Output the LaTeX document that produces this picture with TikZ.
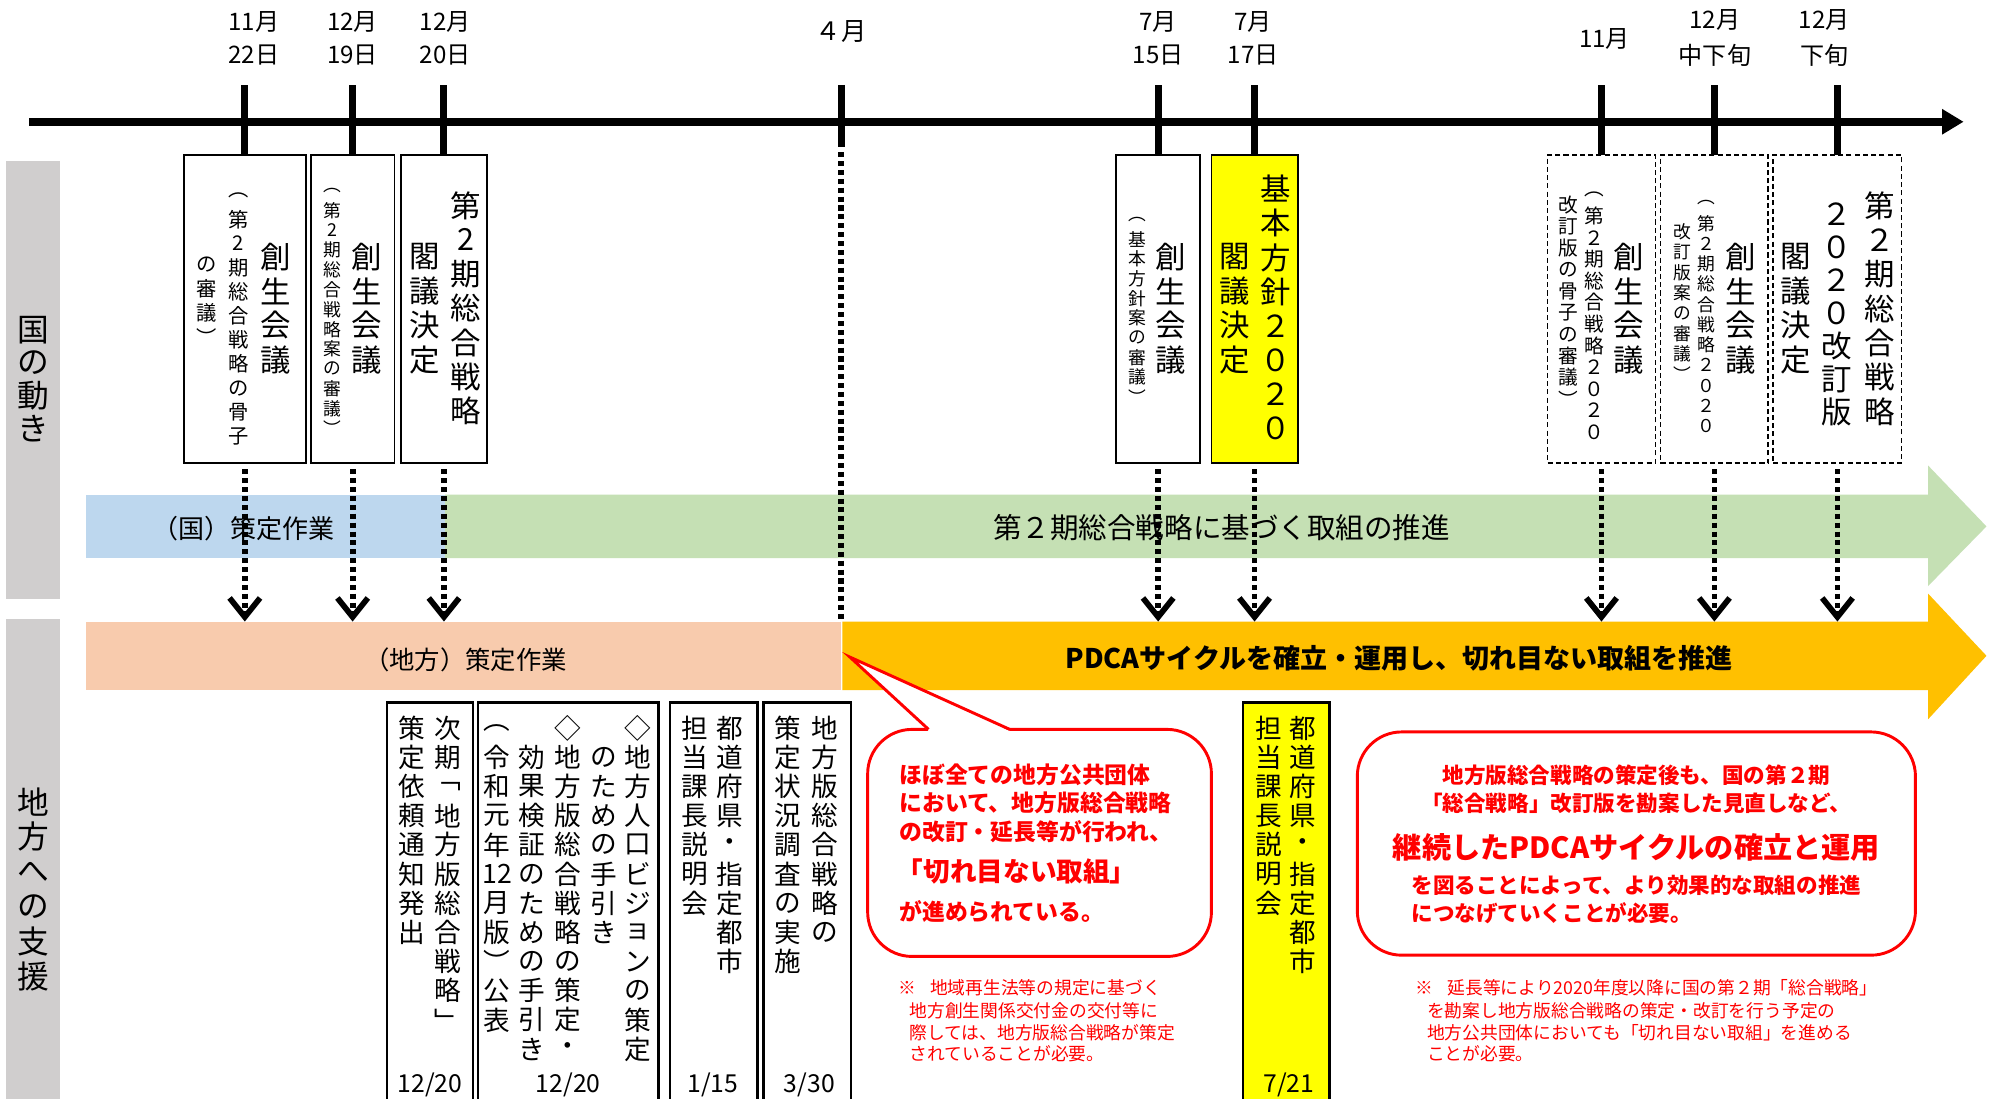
\documentclass[tikz,border=0pt]{standalone}
\usepackage{fontspec}
\setmainfont{Noto Sans CJK JP}
\usetikzlibrary{arrows.meta}
\definecolor{sidegray}{HTML}{D0CECE}
\definecolor{bandblue}{HTML}{BDD7EE}
\definecolor{bandgreen}{HTML}{C5E0B4}
\definecolor{bandsalmon}{HTML}{F8CBAD}
\definecolor{bandgold}{HTML}{FFC000}
\definecolor{hiyellow}{HTML}{FFFF00}
\definecolor{callred}{HTML}{FF0000}
\newlength\vtp
\let\vtend\relax
\def\vtc#1{\hbox to 1.1em{\hss\vbox to\vtp{\vss\hbox{#1}\vss}\hss}}
\def\vtloop#1{\ifx\vtend#1\else\vtc{#1}\expandafter\vtloop\fi}
\newcommand\vcol[2]{\setlength\vtp{#1}\vbox{\offinterlineskip\vtloop#2\vtend}}
\newcommand\fsz[2]{\fontsize{#1}{#2}\selectfont}
\begin{document}
\begin{tikzpicture}[x=1pt,y=-1pt,
  every node/.style={inner sep=0pt, outer sep=0pt},
  sidebar/.style={fill=sidegray, minimum width=42},
  sidelabel/.style={font=\fsz{25pt}{26pt}},
  bandtext/.style={font=\fsz{20pt}{22pt}},
  timeline/.style={line width=6pt, -{Triangle[length=17pt,width=19pt]}},
  tickline/.style={line width=5.5pt},
  topbox/.style={draw, line width=1.4pt, fill=white, minimum height=243},
  topdash/.style={topbox, dash pattern=on 4pt off 2.5pt},
  yel/.style={fill=hiyellow},
  cbig/.style={font=\fsz{24pt}{27pt}},
  csmall/.style={font=\fsz{16pt}{18pt}},
  ctiny/.style={font=\fsz{14pt}{16pt}},
  datelabel/.style={font=\fsz{19pt}{26pt}, align=center},
  dotarrow/.style={line width=4.5pt, dash pattern=on 4pt off 3pt, -{Straight Barb[length=15pt,width=24pt,line join=miter]}},
  dotline/.style={line width=4.5pt, dash pattern=on 4pt off 3pt},
  botbox/.style={draw, line width=2pt, fill=white, minimum height=346},
  cmid/.style={font=\fsz{21pt}{23pt}, anchor=north},
  datef/.style={font=\fsz{19.5pt}{21pt}},
  callbox/.style={draw=callred, line width=2.3pt, fill=white, rounded corners=35pt},
  calltext/.style={text=callred, font=\bfseries\fsz{18pt}{20pt}, anchor=west},
  callbig/.style={text=callred, font=\bfseries\fsz{21pt}{24pt}, anchor=west},
  calltextb/.style={text=callred, font=\bfseries\fsz{17pt}{20pt}},
  notetext/.style={text=callred, font=\fsz{14pt}{16pt}, anchor=west}
]
\useasboundingbox (0,0) rectangle (1568,866);
\clip (0,0) rectangle (1568,866);
\fill[white] (0,0) rectangle (1568,866);

% side bars
\node[sidebar, minimum height=345] (side1) at (26,299.5) {};
\node[sidebar, minimum height=392] (side2) at (26,684) {};
\node[sidelabel] (side1t) at (26,299) {\vcol{26pt}{国の動き}};
\node[sidelabel] (side2t) at (26,701) {\vcol{27.5pt}{地方への支援}};

% bands
\node[fill=bandblue, minimum width=283, minimum height=50] (kband) at (209.5,415) {};
\fill[bandgreen] (351,390) -- (1520,390) -- (1520,367) -- (1566,415) -- (1520,462) -- (1520,440) -- (351,440) -- cycle;
\node[fill=bandsalmon, minimum width=595, minimum height=54] (cband) at (365.5,517) {};
\fill[bandgold] (664,490) -- (1520,490) -- (1520,468) -- (1566,517) -- (1520,567) -- (1520,544) -- (664,544) -- cycle;
\node[bandtext, font=\fsz{20.5pt}{22pt}] (kbandt) at (192,417) {（国）策定作業};
\node[bandtext, font=\fsz{22.5pt}{24pt}] (gbandt) at (963,416) {第２期総合戦略に基づく取組の推進};
\node[bandtext] (cbandt) at (367,520) {（地方）策定作業};
\node[bandtext, font=\bfseries\fsz{21.3pt}{22pt}] (obandt) at (1103,519) {PDCAサイクルを確立・運用し、切れ目ない取組を推進};

% timeline
\coordinate (tlstart) at (23,96);
\coordinate (tlend) at (1548,96);
\coordinate (tltop) at (0,67);
\draw[timeline] (tlstart) -- (tlend);

% top labels
\node[datelabel] (d1) at (200,30) {11月\\22日};
\node[datelabel] (d2) at (278,30) {12月\\19日};
\node[datelabel] (d3) at (351,30) {12月\\20日};
\node[datelabel, font=\fsz{20pt}{26pt}] (d4) at (663,25) {４月};
\node[datelabel] (d5) at (913,30) {7月\\15日};
\node[datelabel] (d6) at (988,30) {7月\\17日};
\node[datelabel] (d7) at (1265,31) {11月};
\node[datelabel, font=\fsz{19pt}{28pt}] (d8) at (1352,30) {12月\\中下旬};
\node[datelabel, font=\fsz{19pt}{28pt}] (d9) at (1438,30) {12月\\下旬};

% top boxes
\node[topbox, minimum width=96] (b1) at (193,243.5) {};
\node[cbig] (b1a) at (217,243) {\vcol{27pt}{創生会議}};
\node[csmall] (b1b) at (188,249) {\vcol{19pt}{︵第2期総合戦略の骨子}};
\node[csmall] (b1c) at (163,237) {\vcol{19pt}{の審議︶}};

\node[topbox, minimum width=66] (b2) at (278,243.5) {};
\node[cbig] (b2a) at (289,243) {\vcol{27pt}{創生会議}};
\node[ctiny] (b2b) at (262,244) {\vcol{15.6pt}{︵第2期総合戦略案の審議︶}};

\node[topbox, minimum width=68] (b3) at (350,243.5) {};
\node[cbig] (b3a) at (367,243) {\vcol{27pt}{第2期総合戦略}};
\node[cbig] (b3b) at (335,243) {\vcol{27pt}{閣議決定}};

\node[topbox, minimum width=66] (b4) at (913,243.5) {};
\node[cbig] (b4a) at (923,243) {\vcol{27pt}{創生会議}};
\node[ctiny] (b4b) at (897,243) {\vcol{15.5pt}{︵基本方針案の審議︶}};

\node[topbox, yel, minimum width=68] (b5) at (989,243.5) {};
\node[cbig] (b5a) at (1006,243.5) {\vcol{27pt}{基本方針２０２０}};
\node[cbig] (b5b) at (973,243) {\vcol{27pt}{閣議決定}};

\node[topdash, minimum width=85] (b6) at (1262.5,243.5) {};
\node[cbig] (b6a) at (1284,243) {\vcol{27pt}{創生会議}};
\node[csmall, font=\fsz{15.5pt}{17pt}] (b6b) at (1257,247) {\vcol{17pt}{︵第２期総合戦略２０２０}};
\node[csmall, font=\fsz{15.5pt}{17pt}] (b6c) at (1236,238) {\vcol{17pt}{改訂版の骨子の審議︶}};

\node[topdash, minimum width=85] (b7) at (1351.5,243.5) {};
\node[cbig] (b7a) at (1372,243) {\vcol{27pt}{創生会議}};
\node[ctiny] (b7b) at (1345,248) {\vcol{16pt}{︵第２期総合戦略２０２０}};
\node[ctiny] (b7c) at (1326,239) {\vcol{16pt}{改訂版案の審議︶}};

\node[topdash, minimum width=101] (b8) at (1448.5,243.5) {};
\node[cbig] (b8a) at (1482,243.5) {\vcol{27pt}{第２期総合戦略}};
\node[cbig] (b8b) at (1448,247) {\vcol{26pt}{２０２０改訂版}};
\node[cbig] (b8c) at (1416,243) {\vcol{27pt}{閣議決定}};

% ticks
\foreach \b in {b1,b2,b3,b4,b5,b6,b7,b8}
  \draw[tickline] (\b.north) -- (\b.north |- tltop);
\coordinate (apr) at (663,67);
\coordinate (aprb) at (663,116);
\draw[tickline] (apr) -- (aprb);
\draw[dotline] ([yshift=-4pt]aprb) -- (aprb |- cband.north);

% dotted arrows
\foreach \b in {b1,b2,b3,b4,b5,b6,b7,b8}
  \draw[dotarrow] ([yshift=-5pt]\b.south) -- (\b.south |- cband.north);

% bottom boxes
\node[botbox, minimum width=68] (c1) at (339,727) {};
\node[cmid] (c1a) at (353,562.5) {\vcol{23pt}{次期﹁地方版総合戦略﹂}};
\node[cmid] (c1b) at (325,562.5) {\vcol{23pt}{策定依頼通知発出}};
\node[datef] (c1d) at (339,855) {12/20};

\node[botbox, minimum width=142] (c2) at (448,727) {};
\node[cmid] (c2a) at (503,562.5) {\vcol{23pt}{◇地方人口ビジョンの策定}};
\node[cmid] (c2b) at (476,585.5) {\vcol{23pt}{のための手引き}};
\node[cmid] (c2c) at (448,562.5) {\vcol{23pt}{◇地方版総合戦略の策定・}};
\node[cmid] (c2d) at (419,585.5) {\vcol{23pt}{効果検証のための手引き}};
\node[cmid] (c2e) at (392,562.5) {\vcol{23pt}{︵令和元年{12}月版︶公表}};
\node[datef] (c2f) at (448,855) {12/20};

\node[botbox, minimum width=69] (c3) at (562.5,727) {};
\node[cmid] (c3a) at (575,562.5) {\vcol{23pt}{都道府県・指定都市}};
\node[cmid] (c3b) at (548,562.5) {\vcol{23pt}{担当課長説明会}};
\node[datef] (c3d) at (562,855) {1/15};

\node[botbox, minimum width=69] (c4) at (636.5,727) {};
\node[cmid] (c4a) at (650,562.5) {\vcol{23pt}{地方版総合戦略の}};
\node[cmid] (c4b) at (621,562.5) {\vcol{23pt}{策定状況調査の実施}};
\node[datef] (c4d) at (638,855) {3/30};

\node[botbox, yel, minimum width=68] (c5) at (1014,727) {};
\node[cmid] (c5a) at (1027,562.5) {\vcol{23pt}{都道府県・指定都市}};
\node[cmid] (c5b) at (1000,562.5) {\vcol{23pt}{担当課長説明会}};
\node[datef] (c5d) at (1016,855) {7/21};

% callout 1
\node[callbox, minimum width=271, minimum height=179] (call1) at (819.5,664.5) {};
\coordinate (tip1) at (670,518);
\coordinate (p1a) at (732,575);
\coordinate (p1b) at (796,575);
\fill[white] ([yshift=-1.2pt]p1a) -- (tip1) -- ([yshift=-1.2pt]p1b) -- cycle;
\draw[callred, line width=2.3pt, line join=miter] (p1a) -- (tip1) -- (p1b);
\node[calltext] (t11) at (709,611) {ほぼ全ての地方公共団体};
\node[calltext] (t12) at (709,633) {において、地方版総合戦略};
\node[calltext] (t13) at (709,656) {の改訂・延長等が行われ、};
\node[callbig] (t14) at (707,687) {「切れ目ない取組」};
\node[calltext] (t15) at (709,719) {が進められている。};

\node[notetext] (n11) at (708,779) {※\hspace{0.8em}地域再生法等の規定に基づく};
\node[notetext] (n12) at (717,797) {地方創生関係交付金の交付等に};
\node[notetext] (n13) at (717,814) {際しては、地方版総合戦略が策定};
\node[notetext] (n14) at (717,831) {されていることが必要。};

% callout 2
\node[callbox, minimum width=440, minimum height=176] (call2) at (1290,665) {};
\node[calltextb] (t21) at (1290,611) {地方版総合戦略の策定後も、国の第２期};
\node[calltextb] (t22) at (1290,633) {「総合戦略」改訂版を勘案した見直しなど、};
\node[calltextb, font=\bfseries\fsz{23pt}{26pt}] (t23) at (1290,668) {継続したPDCAサイクルの確立と運用};
\node[calltextb] (t24) at (1290,698) {を図ることによって、より効果的な取組の推進};
\node[calltextb, anchor=west] (t25) at (t24.west |- 0,720) {につなげていくことが必要。};

\node[notetext] (n21) at (1116,779) {※\hspace{0.8em}延長等により2020年度以降に国の第２期「総合戦略」};
\node[notetext] (n22) at (1125,797) {を勘案し地方版総合戦略の策定・改訂を行う予定の};
\node[notetext] (n23) at (1125,814) {地方公共団体においても「切れ目ない取組」を進める};
\node[notetext] (n24) at (1125,831) {ことが必要。};
\end{tikzpicture}
\end{document}
